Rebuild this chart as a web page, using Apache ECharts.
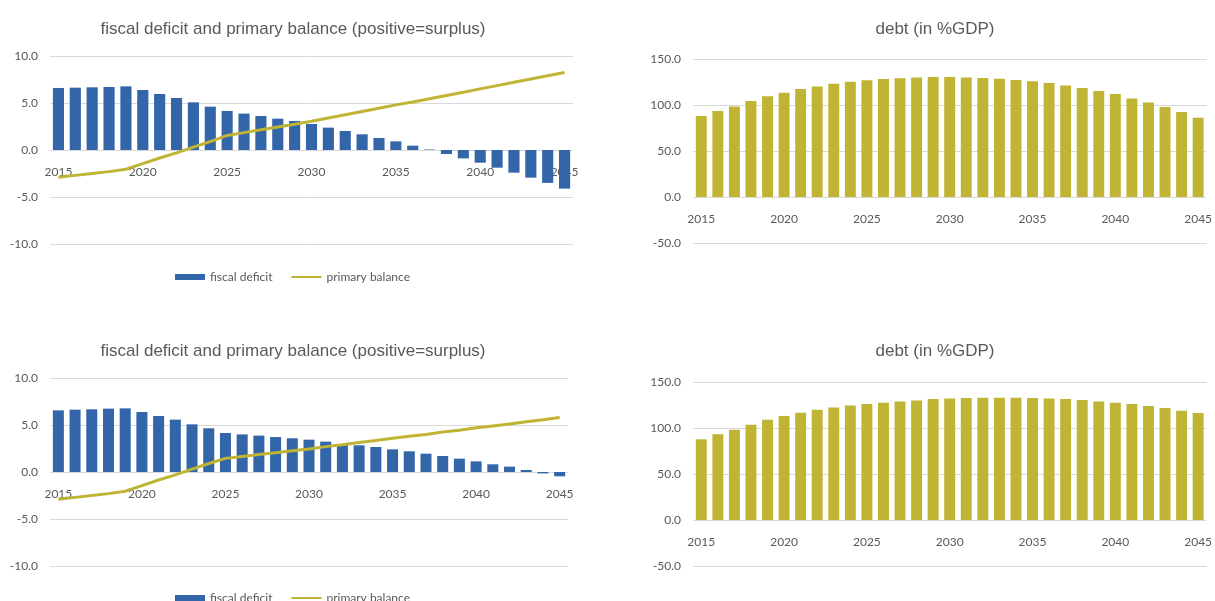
<!DOCTYPE html>
<html>
<head>
<meta charset="utf-8">
<script src="https://cdn.jsdelivr.net/npm/echarts@6/dist/echarts.min.js"></script>
<style>
  html, body { margin: 0; padding: 0; background: #fff; }
  #main { width: 1215px; height: 601px; }
</style>
</head>
<body>
<div id="main"></div>
<script>
  // years 2015..2045
  var years = ['2015','2016','2017','2018','2019','2020','2021','2022','2023','2024',
    '2025','2026','2027','2028','2029','2030','2031','2032','2033','2034',
    '2035','2036','2037','2038','2039','2040','2041','2042','2043','2044','2045'];

  // scenario 1 (top row)
  var deficit1 = [6.6, 6.63, 6.67, 6.7, 6.77, 6.38, 5.96, 5.53, 5.07, 4.61,
    4.15, 3.87, 3.62, 3.33, 3.09, 2.77, 2.38, 2.02, 1.67, 1.28,
    0.92, 0.46, 0.05, -0.43, -0.89, -1.35, -1.88, -2.41, -2.94, -3.5, -4.11];
  var primary1 = [-2.9, -2.7, -2.5, -2.3, -2.05, -1.45, -0.85, -0.3, 0.3, 0.9,
    1.55, 1.85, 2.15, 2.45, 2.75, 3.05, 3.4, 3.75, 4.1, 4.45,
    4.8, 5.1, 5.45, 5.8, 6.15, 6.5, 6.85, 7.2, 7.55, 7.9, 8.25];
  var debt1 = [88, 93.5, 98.5, 104.3, 109.4, 113.4, 117.4, 120.2, 123.2, 125.3,
    126.8, 128.2, 129, 129.8, 130.3, 130.3, 130, 129.3, 128.6, 127.1,
    125.7, 123.9, 121.3, 118.5, 115.2, 112, 107.2, 102.8, 97.8, 92.4, 86.2];

  // scenario 2 (bottom row)
  var deficit2 = [6.56, 6.63, 6.67, 6.74, 6.77, 6.38, 5.96, 5.57, 5.07, 4.65,
    4.15, 4.0, 3.87, 3.72, 3.59, 3.44, 3.23, 2.95, 2.84, 2.66,
    2.41, 2.2, 1.95, 1.7, 1.42, 1.13, 0.82, 0.57, 0.21, -0.15, -0.46];
  var primary2 = [-2.9, -2.7, -2.5, -2.3, -2.05, -1.45, -0.85, -0.3, 0.3, 0.9,
    1.45, 1.65, 1.85, 2.05, 2.25, 2.45, 2.7, 2.9, 3.15, 3.35,
    3.6, 3.8, 4.0, 4.25, 4.45, 4.7, 4.9, 5.1, 5.35, 5.55, 5.8];
  var debt2 = [87.7, 93.1, 98.2, 103.6, 109, 113, 116.6, 119.9, 122.4, 124.5,
    126, 127.4, 128.9, 130, 131.4, 132.1, 132.5, 132.9, 132.9, 132.9,
    132.5, 132.1, 131.4, 130.3, 128.9, 127.4, 126, 123.8, 121.7, 118.8, 116.2];

  var titleLeft = 'fiscal deficit and primary balance (positive=surplus)';
  var titleRight = 'debt (in %GDP)';

  var blue = '#3366a9';
  var olive = '#bfb433';
  var txt = '#595959';
  var gridCol = '#d9d9d9';
  var font = 'Lato';

  var chart = echarts.init(document.getElementById('main'));

  // x axis sits on the zero line (shifted up from the grid bottom)
  function xAx(i, off) {
    return {
      type: 'category', gridIndex: i, data: years, position: 'bottom', offset: off,
      axisTick: { show: false },
      axisLine: { show: false, onZero: false },
      axisLabel: { interval: 4, color: txt, fontFamily: font, fontSize: 12, margin: 16 }
    };
  }
  function yAx(i, min, max, step) {
    return {
      type: 'value', gridIndex: i, min: min, max: max, interval: step,
      axisLabel: { color: txt, fontFamily: font, fontSize: 12, margin: 12,
        formatter: function (v) { return v.toFixed(1); } },
      splitLine: { lineStyle: { color: gridCol, width: 1 } }
    };
  }
  function ttl(text, x, y) {
    return { text: text, left: x, top: y, textAlign: 'center',
      textStyle: { fontFamily: 'Liberation Sans', fontWeight: 'normal', fontSize: 17, color: txt } };
  }
  function leg(y) {
    return {
      top: y, left: 170, itemWidth: 30, itemHeight: 6, itemGap: 18,
      textStyle: { color: txt, fontFamily: font, fontSize: 12 },
      data: [
        { name: 'fiscal deficit', icon: 'rect' },
        { name: 'primary balance', itemStyle: { opacity: 0 }, lineStyle: { width: 2 } }
      ]
    };
  }

  chart.setOption({
    animation: false,
    title: [
      ttl(titleLeft, 288, 16), ttl(titleRight, 930, 16),
      ttl(titleLeft, 288, 338), ttl(titleRight, 930, 338)
    ],
    legend: [leg(266), leg(587)],
    grid: [
      { left: 50, right: 642, top: 56, height: 188 },
      { left: 693, right: 5, top: 59, height: 184 },
      { left: 50, right: 647, top: 378, height: 188 },
      { left: 693, right: 5, top: 382, height: 184 }
    ],
    xAxis: [xAx(0, -94), xAx(1, -46), xAx(2, -94), xAx(3, -46)],
    yAxis: [yAx(0, -10, 10, 5), yAx(1, -50, 150, 50), yAx(2, -10, 10, 5), yAx(3, -50, 150, 50)],
    series: [
      { name: 'fiscal deficit', type: 'bar', xAxisIndex: 0, yAxisIndex: 0, data: deficit1,
        barCategoryGap: '34%', itemStyle: { color: blue } },
      { name: 'primary balance', type: 'line', xAxisIndex: 0, yAxisIndex: 0, data: primary1,
        symbol: 'none', lineStyle: { color: olive, width: 3 }, itemStyle: { color: olive } },
      { name: 'debt', type: 'bar', xAxisIndex: 1, yAxisIndex: 1, data: debt1,
        barCategoryGap: '34%', itemStyle: { color: olive } },
      { name: 'fiscal deficit', type: 'bar', xAxisIndex: 2, yAxisIndex: 2, data: deficit2,
        barCategoryGap: '34%', itemStyle: { color: blue } },
      { name: 'primary balance', type: 'line', xAxisIndex: 2, yAxisIndex: 2, data: primary2,
        symbol: 'none', lineStyle: { color: olive, width: 3 }, itemStyle: { color: olive } },
      { name: 'debt', type: 'bar', xAxisIndex: 3, yAxisIndex: 3, data: debt2,
        barCategoryGap: '34%', itemStyle: { color: olive } }
    ]
  });
</script>
</body>
</html>
